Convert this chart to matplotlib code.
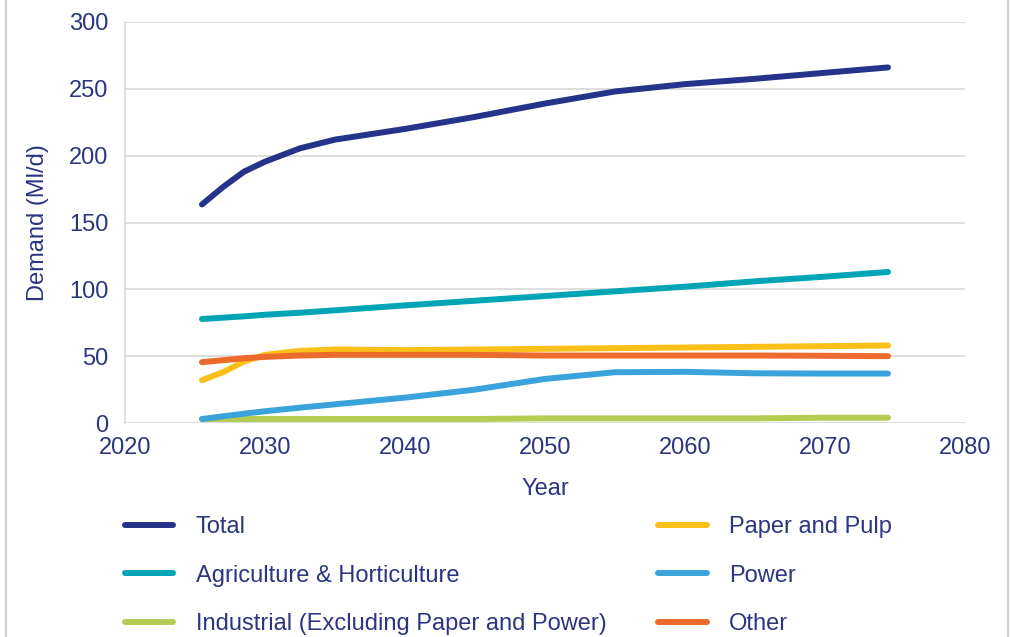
import matplotlib
matplotlib.use('Agg')
import matplotlib.pyplot as plt
from matplotlib.lines import Line2D

plt.rcParams['font.family'] = ['Liberation Sans', 'DejaVu Sans']

years = [2025.5, 2027, 2028.5, 2030, 2032.5, 2035, 2040, 2045, 2050, 2055, 2060, 2065, 2070, 2074.5]
total = [163.5, 176.5, 188, 195.5, 205.5, 212, 220, 229, 239, 248, 253.5, 257.5, 262, 266]
agri = [77.8, 78.8, 79.8, 81, 82.5, 84.3, 88, 91.5, 95, 98.5, 102, 106, 109.5, 113]
paper = [32, 38, 46, 51, 54, 55, 54.5, 55, 55.5, 56, 56.5, 57, 57.5, 58]
power = [3, 5, 7, 8.8, 11.5, 14, 19, 25, 33, 38, 38.3, 37.2, 37, 37]
industrial = [3, 3, 3, 3, 3, 3, 3, 3, 3.5, 3.5, 3.5, 3.5, 4, 4]
other = [45.5, 47, 48.5, 49.5, 50.5, 51, 51, 51, 50.5, 50.5, 50.5, 50.5, 50.3, 50]

txt = '#2b3580'
fs = 17

fig = plt.figure(figsize=(10.11, 6.37), dpi=100)
ax = fig.add_axes([0.1236, 0.3359, 0.8309, 0.6296])

lw = 4.3
kw = dict(lw=lw, solid_capstyle='round', solid_joinstyle='round')
l_ind, = ax.plot(years, industrial, color='#b5cc52', **kw)
l_pow, = ax.plot(years, power, color='#3ba3dc', **kw)
l_pap, = ax.plot(years, paper, color='#fbbf1a', **kw)
l_oth, = ax.plot(years, other, color='#ec6a2b', **kw)
l_agr, = ax.plot(years, agri, color='#00a5b5', **kw)
l_tot, = ax.plot(years, total, color='#25348a', **kw)

ax.set_xlim(2020, 2080)
ax.set_ylim(0, 300)
ax.set_xticks(range(2020, 2081, 10))
ax.set_yticks(range(0, 301, 50))
ax.grid(axis='y', color='#d9d9d9', lw=1.2)
ax.set_axisbelow(True)
for s in ['top', 'right', 'bottom']:
    ax.spines[s].set_visible(False)
ax.spines['left'].set_color('#d9d9d9')
ax.spines['left'].set_linewidth(1.2)
ax.tick_params(length=0, labelsize=fs, labelcolor=txt)
ax.tick_params(axis='y', pad=12)
ax.tick_params(axis='x', pad=10)
ax.set_xlabel('Year', fontsize=fs, color=txt, labelpad=14)
ax.set_ylabel('Demand (Ml/d)', fontsize=fs, color=txt, labelpad=14)

leg_kw = dict(frameon=False, fontsize=fs, labelcolor=txt, handlelength=2.05,
              handletextpad=0.95, labelspacing=1.13, borderpad=0, borderaxespad=0,
              loc='upper left')
leg1 = fig.legend([l_tot, l_agr, l_ind],
                  ['Total', 'Agriculture & Horticulture', 'Industrial (Excluding Paper and Power)'],
                  bbox_to_anchor=(0.1236, 0.190), **leg_kw)
leg2 = fig.legend([l_pap, l_pow, l_oth], ['Paper and Pulp', 'Power', 'Other'],
                  bbox_to_anchor=(0.651, 0.190), **leg_kw)

# page border
fig.add_artist(Line2D([0.006, 0.006], [0, 1], color='#d0d0d0', lw=1.5))
fig.add_artist(Line2D([0.997, 0.997], [0, 1], color='#d0d0d0', lw=1.5))

fig.savefig('out.png', dpi=100)
